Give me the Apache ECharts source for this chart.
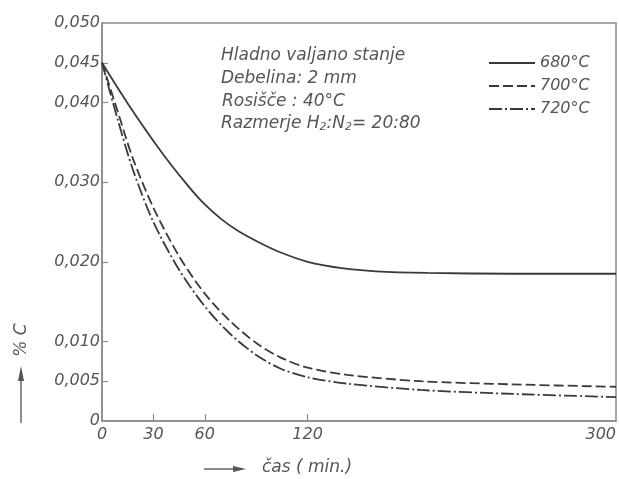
<!DOCTYPE html>
<html>
<head>
<meta charset="utf-8">
<script src="https://cdn.jsdelivr.net/npm/echarts@6/dist/echarts.min.js"></script>
<style>html,body{margin:0;padding:0;background:#fff}#c{width:619px;height:479px}</style>
</head>
<body>
<div id="c"></div>
<script>
// ---- data ----
var t680 = [0, 15, 35, 50, 60, 70, 80, 92, 104, 120, 140, 160, 190, 240, 300];
var v680 = [0.045, 0.0399, 0.0337, 0.0296, 0.0272, 0.0253, 0.0238, 0.0224, 0.0212, 0.0200, 0.0192, 0.0188, 0.0186, 0.0185, 0.0185];
var t700 = [0, 9, 18, 30, 45, 60, 75, 90, 104, 120, 143, 186, 240, 300];
var v700 = [0.045, 0.0390, 0.0330, 0.0268, 0.0207, 0.0160, 0.0125, 0.0098, 0.0080, 0.0067, 0.0058, 0.0050, 0.0046, 0.0043];
var t720 = [0, 9, 18, 30, 45, 60, 75, 90, 104, 120, 143, 186, 240, 300];
var v720 = [0.045, 0.0380, 0.0316, 0.0250, 0.0190, 0.0144, 0.0109, 0.0083, 0.0066, 0.0055, 0.0047, 0.0039, 0.0034, 0.0030];
var seriesNames = ['680°C', '700°C', '720°C'];
var xTicks = [0, 30, 60, 120, 300];
var yTicks = [0, 0.005, 0.010, 0.020, 0.030, 0.040, 0.045, 0.050];
var noteLines = ['Hladno valjano stanje', 'Debelina: 2 mm', 'Rosišče : 40°C'];

function pairs(t, v) { return t.map(function (x, i) { return [x, v[i]]; }); }

var FONT = "'DejaVu Sans',sans-serif";
var TXT = '#555';
var LINE = '#3a3a3a';
var AX = '#8a8a8a';

var chart = echarts.init(document.getElementById('c'), null, {renderer: 'canvas'});
chart.setOption({
  animation: false,
  backgroundColor: '#fff',
  grid: {left: 102, right: 3, top: 23, bottom: 58, show: true, borderColor: AX, borderWidth: 1.5},
  legend: {
    orient: 'vertical', left: 483, top: 50,
    itemWidth: 46, itemHeight: 12, itemGap: 7,
    itemStyle: {opacity: 0},
    textStyle: {fontFamily: FONT, fontStyle: 'italic', fontSize: 16, color: TXT},
    data: seriesNames
  },
  xAxis: {
    type: 'value', min: 0, max: 300,
    axisLine: {lineStyle: {color: AX, width: 1.5}},
    axisTick: {inside: true, length: 7, lineStyle: {color: AX, width: 1.2}, customValues: [30, 60, 120]},
    axisLabel: {customValues: xTicks, margin: 6, color: TXT, fontFamily: FONT, fontStyle: 'italic', fontSize: 16, alignMaxLabel: 'right'},
    splitLine: {show: false}
  },
  yAxis: {
    type: 'value', min: 0, max: 0.05,
    axisLine: {show: true, lineStyle: {color: AX, width: 1.5}},
    axisTick: {show: true, inside: true, length: 6, lineStyle: {color: AX, width: 1.2}, customValues: [0.005, 0.010, 0.020, 0.030, 0.040, 0.045]},
    axisLabel: {
      customValues: yTicks, margin: 2, color: TXT, fontFamily: FONT, fontStyle: 'italic', fontSize: 16,
      formatter: function (v) { return v === 0 ? '0' : v.toFixed(3).replace('.', ','); }
    },
    splitLine: {show: false}
  },
  series: [
    {name: seriesNames[0], type: 'line', data: pairs(t680, v680), symbol: 'none', smooth: 0.3,
     lineStyle: {color: LINE, width: 1.8, type: 'solid'}, itemStyle: {color: LINE}},
    {name: seriesNames[1], type: 'line', data: pairs(t700, v700), symbol: 'none', smooth: 0.3,
     lineStyle: {color: LINE, width: 1.8, type: [10, 4]}, itemStyle: {color: LINE}},
    {name: seriesNames[2], type: 'line', data: pairs(t720, v720), symbol: 'none', smooth: 0.3,
     lineStyle: {color: LINE, width: 1.8, type: [13, 3, 2, 3]}, itemStyle: {color: LINE}}
  ],
  graphic: [
    {type: 'text', left: 221, top: 47, style: {text: noteLines[0], font: 'italic 17px ' + FONT, fill: TXT}},
    {type: 'text', left: 221, top: 70, style: {text: noteLines[1], font: 'italic 17px ' + FONT, fill: TXT}},
    {type: 'text', left: 222, top: 93, style: {text: noteLines[2], font: 'italic 17px ' + FONT, fill: TXT}},
    {type: 'text', left: 221, top: 115, style: {
      text: '{a|Razmerje H}{s|2}{a|:N}{s|2}{a|= 20:80}',
      rich: {a: {font: 'italic 17px ' + FONT, fill: TXT, color: TXT}, s: {font: 'italic 11px ' + FONT, fill: TXT, color: TXT, padding: [8, 0, 0, 0]}}
    }},
    // x axis name
    {type: 'line', shape: {x1: 204, y1: 469, x2: 236, y2: 469}, style: {stroke: '#666', lineWidth: 1.5}},
    {type: 'polygon', shape: {points: [[233, 466], [246, 469], [233, 472]]}, style: {fill: '#555'}},
    {type: 'text', left: 262, top: 459, style: {text: 'čas ( min.)', font: 'italic 17px ' + FONT, fill: TXT}},
    // y axis name
    {type: 'line', shape: {x1: 21, y1: 423, x2: 21, y2: 378}, style: {stroke: '#666', lineWidth: 1.5}},
    {type: 'polygon', shape: {points: [[18, 381], [21, 366], [24, 381]]}, style: {fill: '#555'}},
    {type: 'text', x: 22, y: 340, rotation: Math.PI / 2, style: {text: '% C', font: 'italic 17px ' + FONT, fill: TXT, align: 'center', verticalAlign: 'middle'}}
  ]
});
</script>
</body>
</html>
